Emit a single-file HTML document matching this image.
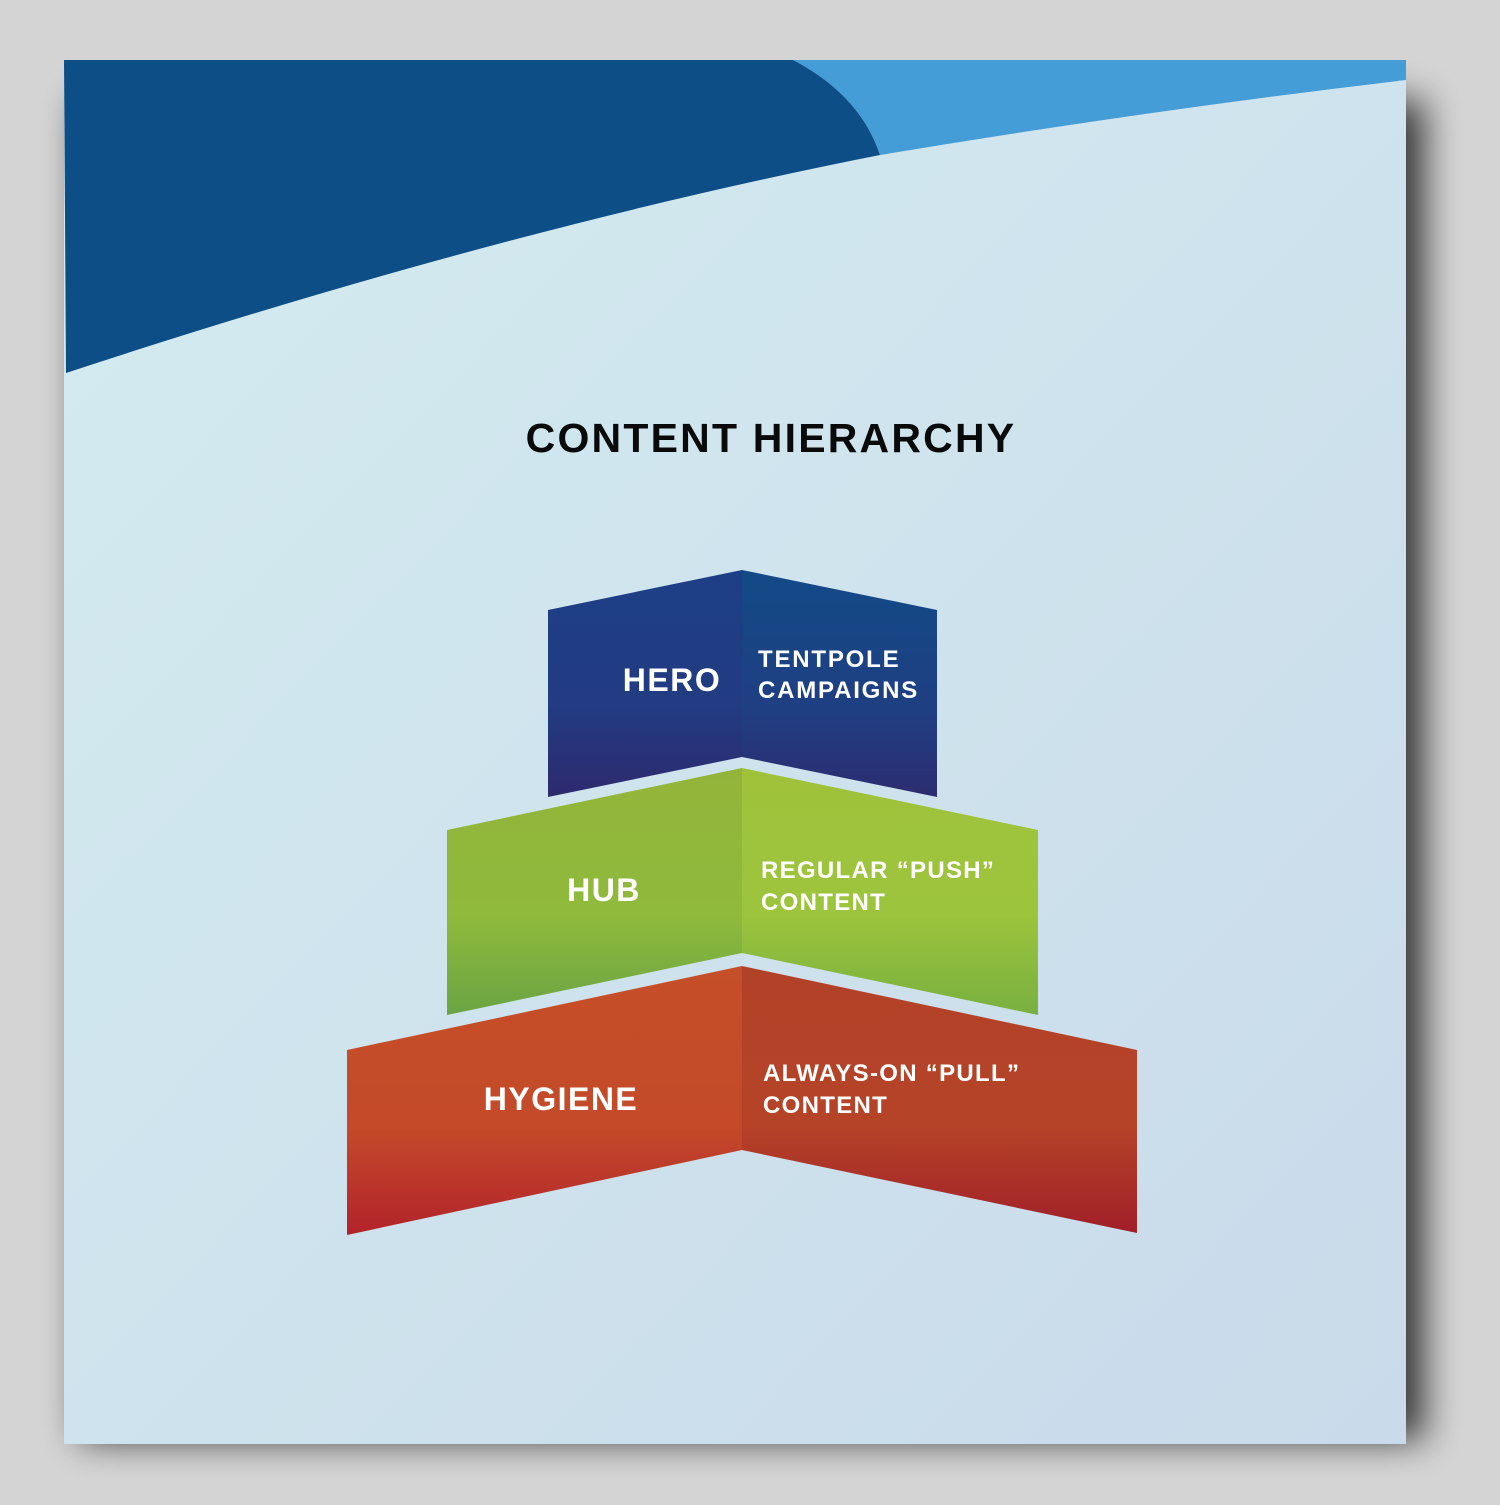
<!DOCTYPE html>
<html><head><meta charset="utf-8"><style>
html,body{margin:0;padding:0;background:#d4d4d4;}
body{width:1500px;height:1500px;overflow:hidden;}
text{font-family:"Liberation Sans",sans-serif;font-weight:bold;fill:#fff;}
</style></head><body>
<svg width="1500" height="1500" viewBox="0 0 1500 1500" xmlns="http://www.w3.org/2000/svg">
<defs>
<linearGradient id="bg" x1="0" y1="0" x2="1" y2="1">
<stop offset="0" stop-color="#d4ecf0"/><stop offset="1" stop-color="#c9daea"/></linearGradient>
<filter id="sh" x="-10%" y="-10%" width="130%" height="130%"><feGaussianBlur stdDeviation="18"/></filter>
<linearGradient id="heroL" x1="0" y1="0" x2="0" y2="1"><stop offset="0" stop-color="#1d3f86"/><stop offset="0.6" stop-color="#223b82"/><stop offset="1" stop-color="#2e2a6e"/></linearGradient>
<linearGradient id="heroR" x1="0" y1="0" x2="0" y2="1"><stop offset="0" stop-color="#124a86"/><stop offset="0.6" stop-color="#1f3f83"/><stop offset="1" stop-color="#2d2c70"/></linearGradient>
<linearGradient id="hubL" x1="0" y1="0" x2="0" y2="1"><stop offset="0" stop-color="#93b43a"/><stop offset="0.6" stop-color="#8fba3c"/><stop offset="1" stop-color="#6aa443"/></linearGradient>
<linearGradient id="hubR" x1="0" y1="0" x2="0" y2="1"><stop offset="0" stop-color="#a0c23b"/><stop offset="0.6" stop-color="#9cc43c"/><stop offset="1" stop-color="#78b040"/></linearGradient>
<linearGradient id="hyL" x1="0" y1="0" x2="0" y2="1"><stop offset="0" stop-color="#c54f28"/><stop offset="0.6" stop-color="#c44a29"/><stop offset="1" stop-color="#b2232b"/></linearGradient>
<linearGradient id="hyR" x1="0" y1="0" x2="0" y2="1"><stop offset="0" stop-color="#b24227"/><stop offset="0.6" stop-color="#b54328"/><stop offset="1" stop-color="#a11f29"/></linearGradient>
</defs>
<rect x="80" y="100" width="1344" height="1340" fill="#000" opacity="0.75" filter="url(#sh)"/>
<rect x="64" y="60" width="1342" height="1384" fill="url(#bg)"/>
<path d="M793 60 L1406 60 L1406 80 Q1150 110 880 155 Q860 95 793 60 Z" fill="#449dd6"/>
<path d="M64 60 L793 60 Q860 95 880 155 Q500 230 66 373 Z" fill="#0e4e87"/>
<text x="771" y="452" text-anchor="middle" style="fill:#0a0a0a;font-size:41px;letter-spacing:2.2px">CONTENT HIERARCHY</text>
<polygon points="548,610 742,570 742,757 548,797" fill="url(#heroL)"/>
<polygon points="742,570 937,610 937,797 742,757" fill="url(#heroR)"/>
<polygon points="447,830 742,768 742,953 447,1015" fill="url(#hubL)"/>
<polygon points="742,768 1038,830 1038,1015 742,953" fill="url(#hubR)"/>
<polygon points="347,1050 742,966 742,1150 347,1235" fill="url(#hyL)"/>
<polygon points="742,966 1137,1050 1137,1233 742,1150" fill="url(#hyR)"/>
<text x="672" y="691" text-anchor="middle" style="font-size:32px;letter-spacing:1.5px">HERO</text>
<text x="758" y="667" style="font-size:24px;letter-spacing:1.8px">TENTPOLE</text>
<text x="758" y="698" style="font-size:24px;letter-spacing:1.8px">CAMPAIGNS</text>
<text x="604" y="901" text-anchor="middle" style="font-size:32px;letter-spacing:1.5px">HUB</text>
<text x="761" y="878" style="font-size:24px;letter-spacing:1.3px">REGULAR “PUSH”</text>
<text x="761" y="910" style="font-size:24px;letter-spacing:1.3px">CONTENT</text>
<text x="561" y="1110" text-anchor="middle" style="font-size:32px;letter-spacing:1.5px">HYGIENE</text>
<text x="763" y="1081" style="font-size:24px;letter-spacing:1.3px">ALWAYS-ON “PULL”</text>
<text x="763" y="1113" style="font-size:24px;letter-spacing:1.3px">CONTENT</text>
</svg>
</body></html>
